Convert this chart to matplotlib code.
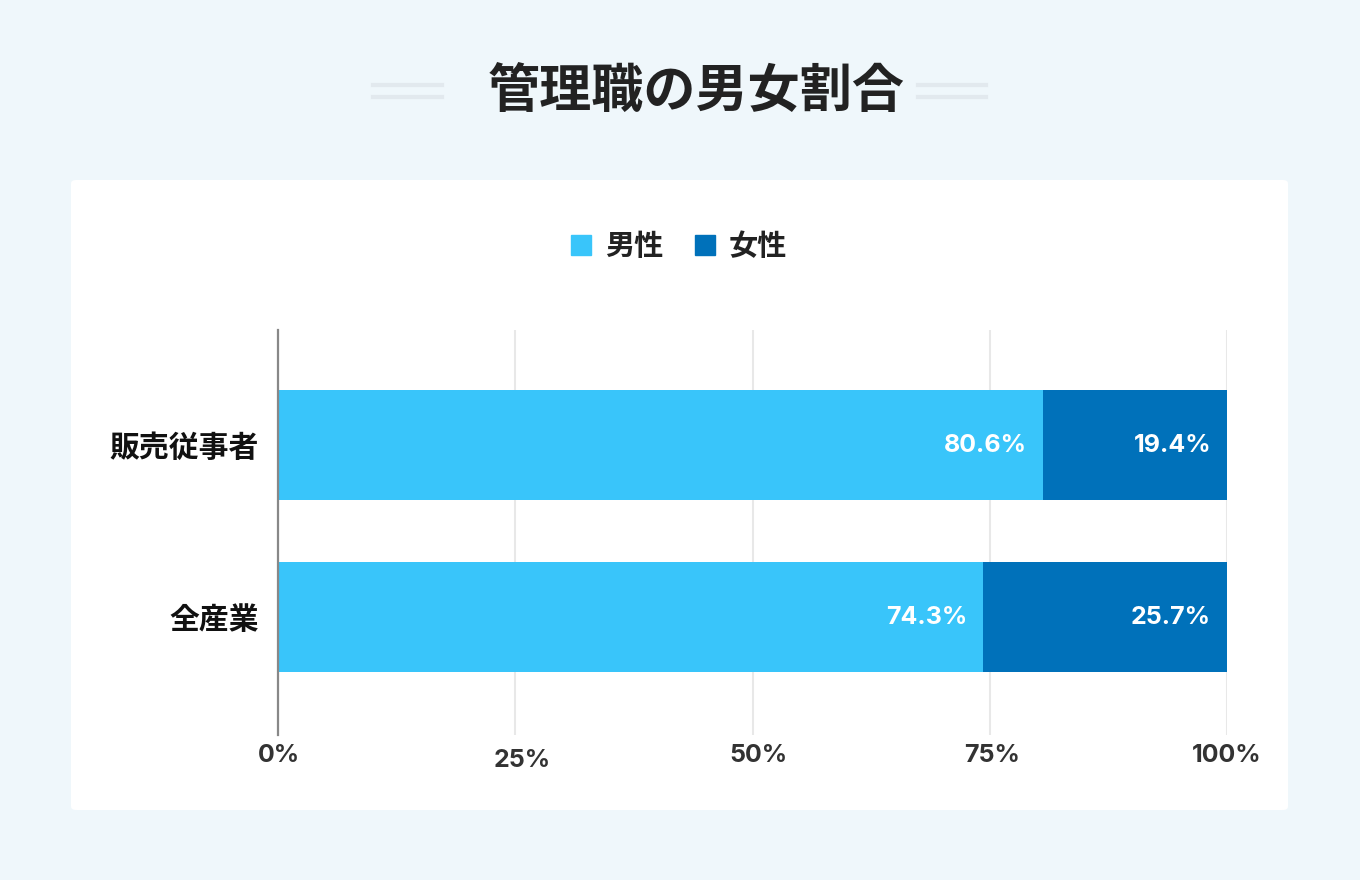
import matplotlib
matplotlib.use('Agg')
import matplotlib.pyplot as plt
from matplotlib.lines import Line2D
from matplotlib.patches import FancyBboxPatch
import numpy as np

plt.rcParams['font.family'] = ['Noto Sans CJK JP', 'DejaVu Sans']

# データ
categories = ['販売従事者', '全産業']
male = [80.6, 74.3]
female = [19.4, 25.7]
series_names = ['男性', '女性']
x_ticks = [0, 25, 50, 75, 100]
x_tick_labels = ['0%', '25%', '50%', '75%', '100%']

c_male = '#39C5FA'
c_female = '#0071BA'
num_font = ['Inter', 'Roboto', 'DejaVu Sans']

fig = plt.figure(figsize=(13.6, 8.8), dpi=100, facecolor='#EFF7FB')
W, H = 1360, 880

# 白いパネル
panel = FancyBboxPatch((71 / W, 1 - 810 / H), 1217 / W, 630 / H,
                       boxstyle='round,pad=0,rounding_size=0.004',
                       transform=fig.transFigure, facecolor='white',
                       edgecolor='none', zorder=-10)
fig.patches.append(panel)

# タイトル
fig.text(696 / W, 1 - 91 / H, '管理職の男女割合', ha='center', va='center',
         fontsize=37.5, fontweight='bold', color='#222222')
for x0, x1 in [(373, 442), (918, 986)]:
    for yy in (85, 97):
        fig.add_artist(Line2D([x0 / W, x1 / W], [1 - yy / H] * 2,
                              transform=fig.transFigure, color='#E2E9EE', lw=3))

ax = fig.add_axes([278 / W, 1 - 735 / H, 949 / W, 405 / H])
ax.set_facecolor('none')

y = np.arange(len(categories))
bar_h = 0.64
b1 = ax.barh(y, male, height=bar_h, color=c_male, label=series_names[0], zorder=2)
b2 = ax.barh(y, female, left=male, height=bar_h, color=c_female, label=series_names[1], zorder=2)

for bars, vals in [(b1, male), (b2, female)]:
    for rect, v in zip(bars, vals):
        ax.annotate(f'{v:.1f}%', xy=(rect.get_x() + rect.get_width(), rect.get_y() + rect.get_height() / 2),
                    xytext=(-11.5, 0), textcoords='offset points', ha='right', va='center',
                    color='white', fontsize=18, fontweight='bold', family=num_font)

ax.set_xlim(0, 100)
ax.set_ylim(1.686, -0.669)
ax.set_xticks(x_ticks)
ax.tick_params(axis='x', length=0, labelbottom=False)
ax.grid(axis='x', color='#E8E8E8', lw=1.5, zorder=0)
ax.set_yticks(y)
ax.set_yticklabels(categories, fontsize=21.5, fontweight='bold', color='#111111')
ax.tick_params(axis='y', length=0, pad=14)
for s in ['top', 'right', 'bottom']:
    ax.spines[s].set_visible(False)
ax.spines['left'].set_color('#888888')
ax.spines['left'].set_linewidth(1.6)
ax.spines['left'].set_zorder(3)

# x軸ラベル（25%だけ少し下がっている）
label_dx = [1, 5, 4, 2, 0]
for i, (v, lab) in enumerate(zip(x_ticks, x_tick_labels)):
    dy = -18 if i == 1 else -14.5
    ax.annotate(lab, xy=(v, 0), xycoords=('data', 'axes fraction'),
                xytext=(label_dx[i], dy), textcoords='offset points', ha='center', va='center',
                color='#333333', fontsize=18, fontweight='bold', family=num_font)

# 凡例
handles = [Line2D([], [], marker='s', ls='none', markersize=15, color=c)
           for c in (c_male, c_female)]
leg = fig.legend(handles, series_names, loc='center', bbox_to_anchor=(679 / W, 1 - 246 / H),
                 ncol=2, frameon=False, handlelength=0.7, handletextpad=0.45,
                 columnspacing=1.1, prop={'size': 21, 'weight': 'bold'})
for t in leg.get_texts():
    t.set_color('#222222')

fig.savefig('out.png', dpi=100, facecolor=fig.get_facecolor())
